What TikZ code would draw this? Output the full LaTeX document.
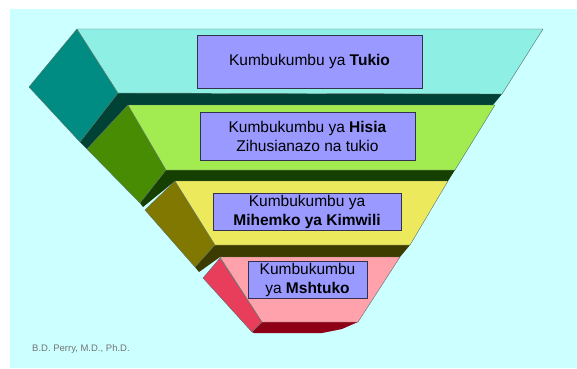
\documentclass[tikz,border=0pt]{standalone}
\usepackage{fontspec}
\setmainfont{Liberation Sans}
\definecolor{bgc}{RGB}{204,255,255}
\definecolor{fA}{RGB}{142,240,228}
\definecolor{sA}{RGB}{0,140,130}
\definecolor{dA}{RGB}{0,66,54}
\definecolor{fB}{RGB}{162,236,82}
\definecolor{sB}{RGB}{72,140,4}
\definecolor{dB}{RGB}{22,64,2}
\definecolor{fC}{RGB}{236,234,92}
\definecolor{sC}{RGB}{128,120,0}
\definecolor{dC}{RGB}{60,60,0}
\definecolor{fD}{RGB}{255,162,172}
\definecolor{sD}{RGB}{232,62,92}
\definecolor{dD}{RGB}{142,0,22}
\definecolor{boxc}{RGB}{153,153,255}
\definecolor{boxl}{RGB}{50,50,80}
\definecolor{edgec}{RGB}{90,110,100}
\tikzset{
  face/.style={line width=0.4pt, draw=edgec, line join=round},
  label box/.style={draw=boxl, line width=0.6pt, fill=boxc, align=center, inner sep=0pt,
    font=\fontsize{15.5}{19}\selectfont, text=black},
  credit/.style={font=\fontsize{9.5}{11}\selectfont, text=black!55, anchor=west, inner sep=0pt}
}
\begin{document}
\begin{tikzpicture}[x=1pt,y=-1pt]
\useasboundingbox (0,0) rectangle (577,368);
\fill[white] (0,0) rectangle (577,368);
\fill[bgc] (10,9) rectangle (577,368);
% layer 1
\fill[dA] (80,142) -- (118,93) -- (502,94) -- (493,105) -- (128,105) -- (87,149) -- cycle;
\filldraw[face, fill=sA] (77,29) -- (29,87) -- (80,142) -- (118,93) -- cycle;
\filldraw[face, fill=fA] (77,29) -- (543,29) -- (502,94) -- (118,93) -- cycle;
% layer 2
\fill[dB] (140,203) -- (166,170) -- (455,170) -- (448,181) -- (175,181) -- (143,207) -- cycle;
\filldraw[face, fill=sB] (128,105) -- (87,149) -- (140,203) -- (166,170) -- cycle;
\filldraw[face, fill=fB] (128,105) -- (495,105) -- (455,170) -- (166,170) -- cycle;
% layer 3
\fill[dC] (195,267) -- (215,245) -- (410,245) -- (400,257) -- (220,257) -- (199,272) -- cycle;
\filldraw[face, fill=sC] (175,181) -- (145,210) -- (195,267) -- (215,245) -- cycle;
\filldraw[face, fill=fC] (175,181) -- (448,181) -- (410,245) -- (215,245) -- cycle;
% layer 4
\fill[dD] (252,332) -- (262,322) -- (358,322) -- (342,329) -- (322,333) -- (254,333) -- cycle;
\filldraw[face, fill=sD] (220,258) -- (203,278) -- (252,332) -- (262,322) -- cycle;
\filldraw[face, fill=fD] (220,257) -- (400,257) -- (358,322) -- (262,322) -- cycle;
% labels
\node[label box, minimum width=225pt, minimum height=53pt] (b1) at (309.5,61.5) {Kumbukumbu ya \textbf{Tukio}};
\node[label box, minimum width=215pt, minimum height=48pt] (b2) at (307.5,136) {Kumbukumbu ya \textbf{Hisia}\\Zihusianazo na tukio};
\node[label box, minimum width=188pt, minimum height=37pt] (b3) at (307,211.5) {Kumbukumbu ya\\\textbf{Mihemko ya Kimwili}};
\node[label box, minimum width=119pt, minimum height=37pt] (b4) at (307.5,279.5) {Kumbukumbu\\ya \textbf{Mshtuko}};
\node[credit] (cr) at (32,349) {B.D. Perry, M.D., Ph.D.};
\end{tikzpicture}
\end{document}
